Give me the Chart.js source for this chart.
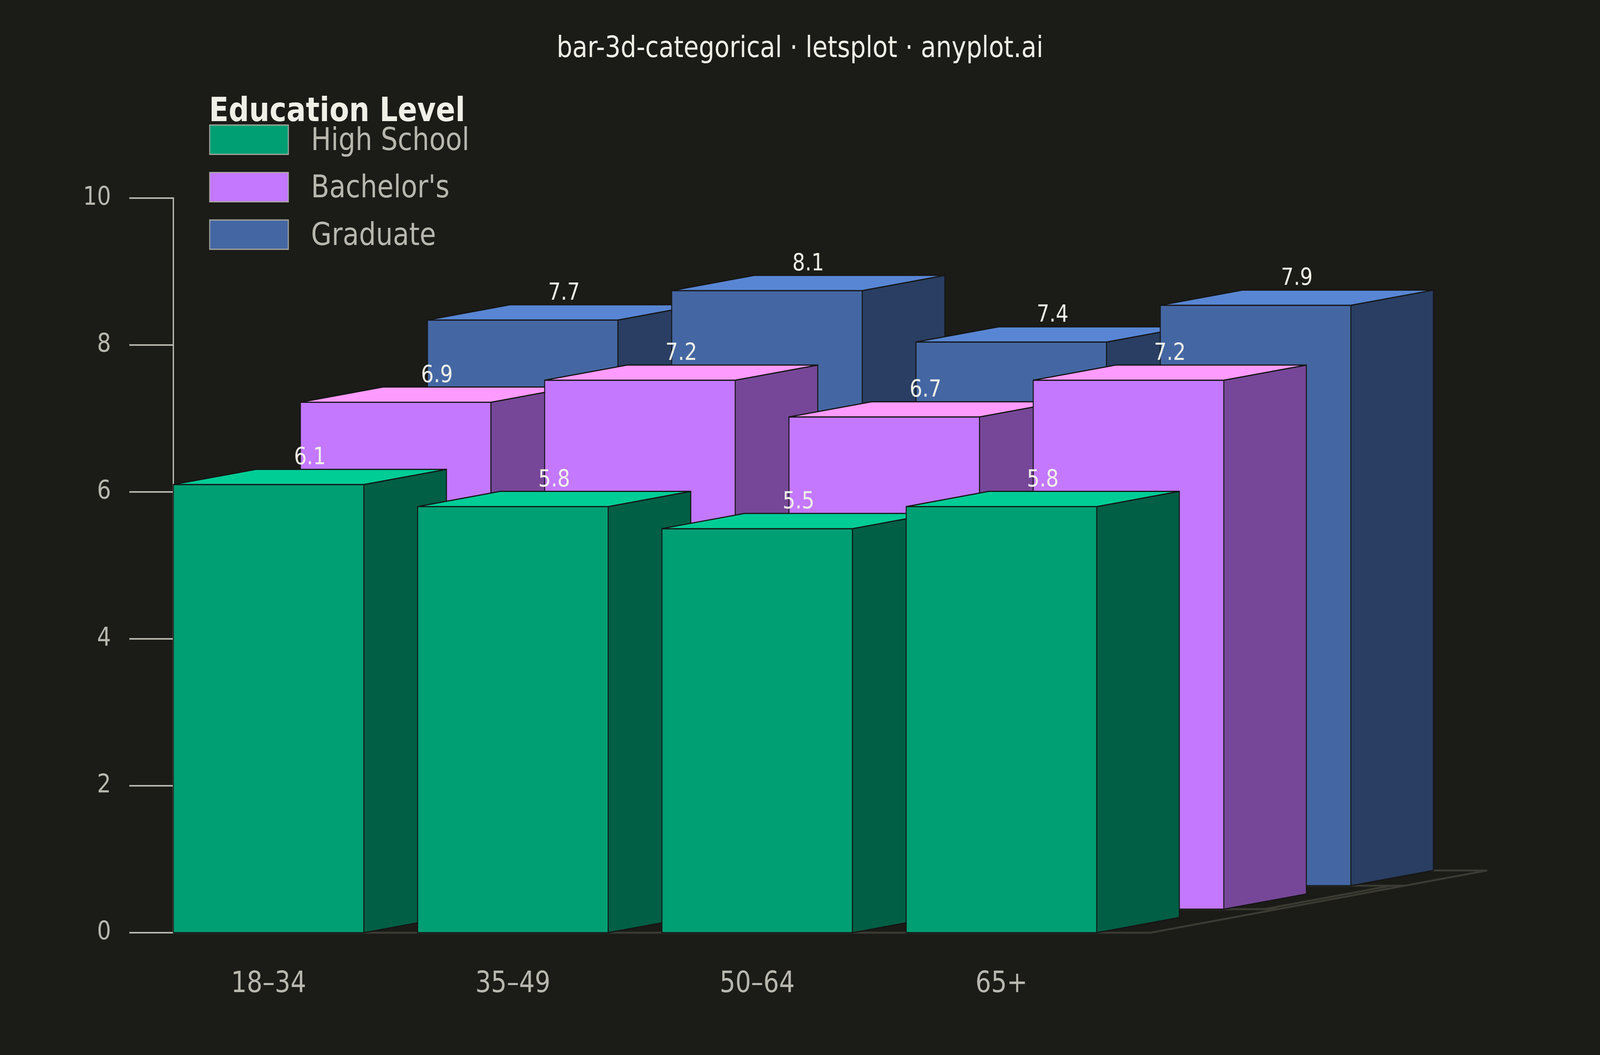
<!DOCTYPE html>
<html>
<head>
<meta charset="utf-8">
<script src="https://cdn.jsdelivr.net/npm/chart.js@4.4.1/dist/chart.umd.min.js"></script>
<style>
  html, body { margin: 0; padding: 0; background: #1b1b17; overflow: hidden; }
  canvas { display: block; position: fixed; left: 0; top: 0; }
</style>
</head>
<body>
<canvas id="chart" width="4800" height="2700" style="width:100vw;height:100vh"></canvas>
<script>
// ---------------- data ----------------
const categories = ['18–34', '35–49', '50–64', '65+'];
const seriesNames = ['High School', "Bachelor's", 'Graduate'];
const highSchool = [6.1, 5.8, 5.5, 5.8];
const bachelors = [6.9, 7.2, 6.7, 7.2];
const graduate = [7.7, 8.1, 7.4, 7.9];
const yTicks = [0, 2, 4, 6, 8, 10];
const chartTitle = 'bar-3d-categorical · letsplot · anyplot.ai';
const legendTitle = 'Education Level';

// ---------------- style ----------------
const FONT = "'DejaVu Sans', 'Liberation Sans', sans-serif";
const BG = '#1b1b17';
const frontColors = ['#009e73', '#c378fd', '#4467a3'];
const topColors = ['#00cd96', '#fe9bff', '#5886d4'];
const sideColors = ['#005f45', '#764798', '#293e62'];
const EDGE = '#161616';
const FLOOR = '#3b3b34';
const AXIS = '#b8b8b0';

// 3D geometry in data units
const HALF = 0.39;      // half width of a bar front (x units)
const ROW_DX = 0.52;    // shift of each further row (x units)
const ROW_DY = 0.32;    // shift of each further row (y units)
const DEPTH_DX = 0.338; // bar depth (x units)
const DEPTH_DY = 0.207; // bar depth (y units)
const X_MIN = -0.39;
const X_MAX = 5.45;

const seriesValues = [highSchool, bachelors, graduate];

const bar3d = {
  id: 'bar3d',
  beforeDraw(chart) {
    const ctx = chart.ctx;
    ctx.save();
    ctx.fillStyle = BG;
    ctx.fillRect(0, 0, chart.width, chart.height);
    ctx.restore();
  },
  beforeDatasetsDraw(chart) {
    const ctx = chart.ctx;
    const xs = chart.scales.x, ys = chart.scales.y;
    const px = v => xs.getPixelForValue(v);
    const py = v => ys.getPixelForValue(v);
    const nRows = seriesValues.length;
    const floorLeft = X_MIN;
    const floorRight = categories.length + X_MIN;
    const backDX = (nRows - 1) * ROW_DX + DEPTH_DX;
    const backDY = (nRows - 1) * ROW_DY + DEPTH_DY;
    ctx.save();
    ctx.strokeStyle = FLOOR;
    ctx.lineWidth = 5;
    ctx.lineJoin = 'miter';
    ctx.beginPath();
    ctx.moveTo(px(floorLeft), py(0));
    ctx.lineTo(px(floorRight), py(0));
    ctx.lineTo(px(floorRight + backDX), py(backDY));
    ctx.lineTo(px(floorLeft + backDX), py(backDY));
    ctx.closePath();
    ctx.stroke();
    for (let r = 1; r < nRows; r++) {
      ctx.beginPath();
      ctx.moveTo(px(floorLeft + r * ROW_DX), py(r * ROW_DY));
      ctx.lineTo(px(floorRight + r * ROW_DX), py(r * ROW_DY));
      ctx.stroke();
    }
    ctx.beginPath();
    ctx.moveTo(px(floorRight + ROW_DX - 0.055), py(ROW_DY));
    ctx.lineTo(px(floorRight + 2 * ROW_DX - 0.055), py(2 * ROW_DY));
    ctx.stroke();
    ctx.restore();
  },
  afterDatasetsDraw(chart) {
    const ctx = chart.ctx;
    const xs = chart.scales.x, ys = chart.scales.y;
    const px = v => xs.getPixelForValue(v);
    const py = v => ys.getPixelForValue(v);
    const ddx = px(DEPTH_DX) - px(0);
    const ddy = py(0) - py(DEPTH_DY);
    ctx.save();
    ctx.strokeStyle = EDGE;
    ctx.lineWidth = 3;
    ctx.lineJoin = 'miter';
    const labels = [];
    for (let r = chart.data.datasets.length - 1; r >= 0; r--) {
      const ds = chart.data.datasets[r];
      ds.data.forEach(pt => {
        const x0 = px(pt.x - HALF + r * ROW_DX);
        const x1 = px(pt.x + HALF + r * ROW_DX);
        const yb = py(r * ROW_DY);
        const yt = py(pt.y + r * ROW_DY);
        // front face
        ctx.fillStyle = frontColors[r];
        ctx.beginPath();
        ctx.rect(x0, yt, x1 - x0, yb - yt);
        ctx.fill(); ctx.stroke();
        // side face
        ctx.fillStyle = sideColors[r];
        ctx.beginPath();
        ctx.moveTo(x1, yb);
        ctx.lineTo(x1 + ddx, yb - ddy);
        ctx.lineTo(x1 + ddx, yt - ddy);
        ctx.lineTo(x1, yt);
        ctx.closePath();
        ctx.fill(); ctx.stroke();
        // top face
        ctx.fillStyle = topColors[r];
        ctx.beginPath();
        ctx.moveTo(x0, yt);
        ctx.lineTo(x0 + ddx, yt - ddy);
        ctx.lineTo(x1 + ddx, yt - ddy);
        ctx.lineTo(x1, yt);
        ctx.closePath();
        ctx.fill(); ctx.stroke();
        labels.push({ x: (x0 + x1) / 2 + ddx / 2, y: yt - ddy - 13, text: pt.y.toFixed(1) });
      });
    }
    ctx.fillStyle = '#f0f0e8';
    ctx.font = `60px ${FONT}`;
    ctx.textAlign = 'center';
    ctx.textBaseline = 'alphabetic';
    labels.forEach(l => ctx.fillText(l.text, l.x, l.y));
    ctx.restore();
  },
  afterDraw(chart) {
    const ctx = chart.ctx;
    ctx.save();
    ctx.textAlign = 'left';
    ctx.textBaseline = 'alphabetic';
    ctx.fillStyle = '#f0f0e8';
    ctx.font = `bold 86px ${FONT}`;
    ctx.fillText(legendTitle, 627, 310);
    const sx = 629, sy = 320, sw = 236, sh = 75, step = 121.5;
    seriesNames.forEach((name, k) => {
      const y = sy + k * step;
      ctx.fillStyle = frontColors[k];
      ctx.fillRect(sx, y, sw, sh);
      ctx.strokeStyle = '#a8a8a0';
      ctx.lineWidth = 3;
      ctx.strokeRect(sx, y, sw, sh);
      ctx.fillStyle = AXIS;
      ctx.font = `80px ${FONT}`;
      ctx.fillText(name, 933, y + sh / 2 + 26);
    });
    ctx.restore();
  }
};

const datasets = seriesNames.map((name, r) => ({
  label: name,
  data: seriesValues[r].map((v, i) => ({ x: i, y: v })),
  pointRadius: 0,
  pointHoverRadius: 0,
  showLine: false,
  backgroundColor: frontColors[r],
  borderColor: frontColors[r]
}));

new Chart(document.getElementById('chart'), {
  type: 'scatter',
  data: { datasets },
  plugins: [bar3d],
  options: {
    responsive: false,
    animation: false,
    devicePixelRatio: 1,
    events: [],
    layout: { padding: { left: 0, right: 0, top: 0, bottom: 0 } },
    plugins: {
      legend: { display: false },
      tooltip: { enabled: false },
      title: {
        display: true,
        text: chartTitle,
        color: '#f0f0e8',
        font: { family: FONT, size: 74, weight: 'normal', lineHeight: 1.2 },
        padding: { top: 82, bottom: 336 }
      }
    },
    scales: {
      x: {
        type: 'linear',
        min: X_MIN,
        max: X_MAX,
        afterBuildTicks: s => { s.ticks = categories.map((c, i) => ({ value: i })); },
        afterFit: s => { s.height = 313; },
        grid: { display: false, drawTicks: false },
        border: { display: false },
        ticks: {
          autoSkip: false,
          maxRotation: 0,
          padding: 88,
          color: AXIS,
          font: { family: FONT, size: 74 },
          callback: v => categories[Math.round(v)] ?? ''
        }
      },
      y: {
        type: 'linear',
        min: 0,
        max: 10,
        afterBuildTicks: s => { s.ticks = yTicks.map(v => ({ value: v })); },
        afterFit: s => { s.width = 520; },
        grid: { display: true, drawOnChartArea: false, drawTicks: true, tickLength: 132, color: AXIS, lineWidth: 4 },
        border: { display: true, color: AXIS, width: 4 },
        ticks: { padding: 55, color: AXIS, font: { family: FONT, size: 66 } }
      }
    }
  }
});
</script>
</body>
</html>
